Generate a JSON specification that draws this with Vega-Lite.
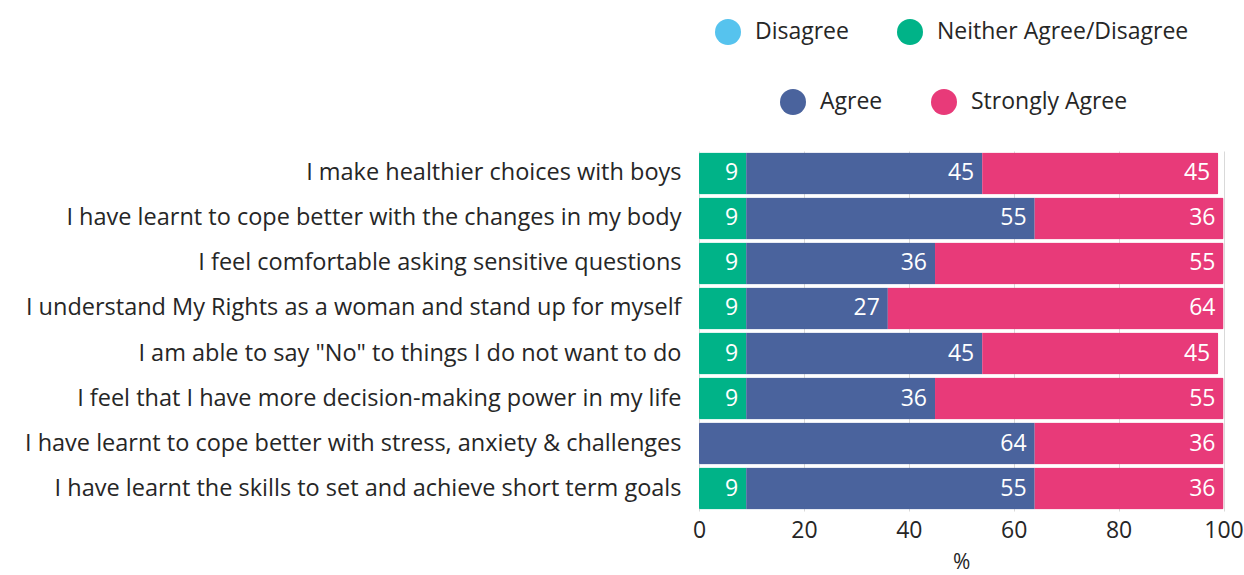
{
  "$schema": "https://vega.github.io/schema/vega-lite/v6.json",
  "width": 524.5,
  "height": 360,
  "autosize": {"type": "none"},
  "padding": {"left": 699, "top": 151, "right": 20, "bottom": 64},
  "background": "white",
  "config": {
    "font": "Open Sans",
    "view": {"stroke": null},
    "axis": {"labelColor": "#262626", "titleColor": "#262626"}
  },
  "data": {
    "values": [
      {"q": "I make healthier choices with boys", "r": "Neither Agree/Disagree", "o": 1, "v": 9},
      {"q": "I make healthier choices with boys", "r": "Agree", "o": 2, "v": 45},
      {"q": "I make healthier choices with boys", "r": "Strongly Agree", "o": 3, "v": 45},
      {"q": "I have learnt to cope better with the changes in my body", "r": "Neither Agree/Disagree", "o": 1, "v": 9},
      {"q": "I have learnt to cope better with the changes in my body", "r": "Agree", "o": 2, "v": 55},
      {"q": "I have learnt to cope better with the changes in my body", "r": "Strongly Agree", "o": 3, "v": 36},
      {"q": "I feel comfortable asking sensitive questions", "r": "Neither Agree/Disagree", "o": 1, "v": 9},
      {"q": "I feel comfortable asking sensitive questions", "r": "Agree", "o": 2, "v": 36},
      {"q": "I feel comfortable asking sensitive questions", "r": "Strongly Agree", "o": 3, "v": 55},
      {"q": "I understand My Rights as a woman and stand up for myself", "r": "Neither Agree/Disagree", "o": 1, "v": 9},
      {"q": "I understand My Rights as a woman and stand up for myself", "r": "Agree", "o": 2, "v": 27},
      {"q": "I understand My Rights as a woman and stand up for myself", "r": "Strongly Agree", "o": 3, "v": 64},
      {"q": "I am able to say \"No\" to things I do not want to do", "r": "Neither Agree/Disagree", "o": 1, "v": 9},
      {"q": "I am able to say \"No\" to things I do not want to do", "r": "Agree", "o": 2, "v": 45},
      {"q": "I am able to say \"No\" to things I do not want to do", "r": "Strongly Agree", "o": 3, "v": 45},
      {"q": "I feel that I have more decision-making power in my life", "r": "Neither Agree/Disagree", "o": 1, "v": 9},
      {"q": "I feel that I have more decision-making power in my life", "r": "Agree", "o": 2, "v": 36},
      {"q": "I feel that I have more decision-making power in my life", "r": "Strongly Agree", "o": 3, "v": 55},
      {"q": "I have learnt to cope better with stress, anxiety & challenges", "r": "Agree", "o": 2, "v": 64},
      {"q": "I have learnt to cope better with stress, anxiety & challenges", "r": "Strongly Agree", "o": 3, "v": 36},
      {"q": "I have learnt the skills to set and achieve short term goals", "r": "Neither Agree/Disagree", "o": 1, "v": 9},
      {"q": "I have learnt the skills to set and achieve short term goals", "r": "Agree", "o": 2, "v": 55},
      {"q": "I have learnt the skills to set and achieve short term goals", "r": "Strongly Agree", "o": 3, "v": 36}
    ]
  },
  "encoding": {
    "y": {
      "field": "q", "type": "nominal", "sort": null, "title": null,
      "scale": {"paddingInner": 0.067, "paddingOuter": 0.033},
      "axis": {"labelFontSize": 23.5, "labelPadding": 18, "ticks": false, "domain": false, "labelLimit": 700}
    },
    "x": {
      "field": "v", "type": "quantitative", "stack": "zero",
      "scale": {"domain": [0, 100], "nice": false},
      "title": "%",
      "axis": {"values": [0, 20, 40, 60, 80, 100], "labelFontSize": 23, "titleFontSize": 21, "titleFontWeight": "normal", "labelPadding": 8, "titlePadding": 9, "ticks": false, "domain": false, "gridColor": "#d9d9d9", "labelFlush": false}
    },
    "order": {"field": "o", "type": "quantitative"}
  },
  "resolve": {"scale": {"fill": "independent"}, "legend": {"fill": "independent"}},
  "layer": [
    {
      "mark": {"type": "bar", "cornerRadius": 1.5},
      "encoding": {
        "color": {
          "field": "r", "type": "nominal", "title": null, "legend": null,
          "scale": {
            "domain": ["Disagree", "Neither Agree/Disagree", "Agree", "Strongly Agree"],
            "range": ["#56c3ee", "#00b388", "#4a639d", "#e83a79"]
          }
        }
      }
    },
    {
      "mark": {"type": "text", "align": "right", "dx": -8, "color": "white", "fontSize": 23},
      "encoding": {"text": {"field": "v", "type": "quantitative"}}
    },
    {
      "mark": {"type": "point", "filled": true, "opacity": 0, "shape": "circle"},
      "encoding": {
        "fill": {
          "field": "r", "type": "nominal", "title": null,
          "scale": {"domain": ["Disagree", "Neither Agree/Disagree"], "range": ["#56c3ee", "#00b388"]},
          "legend": {
            "orient": "none", "legendX": 16, "legendY": -132, "direction": "horizontal",
            "symbolType": "circle", "symbolSize": 676, "symbolStrokeWidth": 0, "symbolOpacity": 1,
            "labelFontSize": 23, "labelColor": "#262626", "labelOffset": 14, "labelLimit": 400,
            "columnPadding": 48
          }
        }
      }
    },
    {
      "mark": {"type": "point", "filled": true, "opacity": 0, "shape": "circle"},
      "encoding": {
        "fill": {
          "field": "r", "type": "nominal", "title": null,
          "scale": {"domain": ["Agree", "Strongly Agree"], "range": ["#4a639d", "#e83a79"]},
          "legend": {
            "orient": "none", "legendX": 81, "legendY": -62, "direction": "horizontal",
            "symbolType": "circle", "symbolSize": 676, "symbolStrokeWidth": 0, "symbolOpacity": 1,
            "labelFontSize": 23, "labelColor": "#262626", "labelOffset": 14, "labelLimit": 400,
            "columnPadding": 48
          }
        }
      }
    }
  ]
}
